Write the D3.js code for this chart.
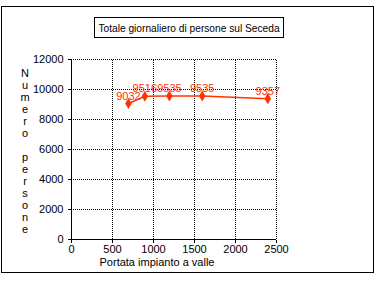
<!DOCTYPE html>
<html lang="en">
<head>
    <meta charset="UTF-8">
    <title>Totale giornaliero di persone sul Seceda</title>
    <script src="https://d3js.org/d3.v7.min.js"></script>
    <style>
        body { margin: 0; background: #fff; }
        svg text { font-family: 'Liberation Sans', Arial, sans-serif; font-size: 11px; fill: #000; }
        .grid line { stroke: #000; stroke-dasharray: 1,1; shape-rendering: crispEdges; }
        .lbl { fill: #ff3300 !important; }
    </style>
</head>
<body>
<svg id="chart" width="378" height="284"></svg>
<script>
    // data
    var portata = [700, 900, 1200, 1600, 2400];
    var persone = [9032, 9516, 9535, 9535, 9357];
    var xTicks = [0, 500, 1000, 1500, 2000, 2500];
    var yTicks = [0, 2000, 4000, 6000, 8000, 10000, 12000];

    var red = "#ff3300";
    var svg = d3.select("#chart");

    // outer frame
    svg.append("rect").attr("x", 1.5).attr("y", 6.5).attr("width", 372).attr("height", 266)
        .attr("fill", "none").attr("stroke", "#000");

    // title box
    svg.append("rect").attr("x", 94.5).attr("y", 17.5).attr("width", 189).attr("height", 20)
        .attr("fill", "none").attr("stroke", "#000");
    svg.append("text").attr("x", 189).attr("y", 31.5).attr("text-anchor", "middle")
        .style("font-size", "10.2px")
        .text("Totale giornaliero di persone sul Seceda");

    var x = d3.scaleLinear().domain([0, 2500]).range([71, 276]);
    var y = d3.scaleLinear().domain([0, 12000]).range([239, 59]);

    // dotted grid
    var grid = svg.append("g").attr("class", "grid");
    grid.selectAll(".gy").data(yTicks.slice(1)).enter().append("line")
        .attr("x1", x(0)).attr("x2", x(2500))
        .attr("y1", function(d) { return Math.round(y(d)) + 0.5; })
        .attr("y2", function(d) { return Math.round(y(d)) + 0.5; });
    grid.selectAll(".gx").data(xTicks.slice(1)).enter().append("line")
        .attr("y1", y(0)).attr("y2", y(12000))
        .attr("x1", function(d) { return Math.round(x(d)) + 0.5; })
        .attr("x2", function(d) { return Math.round(x(d)) + 0.5; });

    // axes
    var xAxis = svg.append("g").attr("transform", "translate(0," + (y(0) + 0.5) + ")")
        .call(d3.axisBottom(x).tickValues(xTicks).tickFormat(d3.format("d")).tickSize(3).tickPadding(3).tickSizeOuter(0));
    var yAxis = svg.append("g").attr("transform", "translate(" + (x(0) + 0.5) + ",0)")
        .call(d3.axisLeft(y).tickValues(yTicks).tickFormat(d3.format("d")).tickSize(4).tickPadding(4).tickSizeOuter(0));
    [xAxis, yAxis].forEach(function(a) {
        a.attr("font-family", null).attr("font-size", null);
        a.selectAll("path, line").attr("stroke", "#000").attr("shape-rendering", "crispEdges");
        a.select(".domain").remove();
    });
    svg.append("line").attr("x1", x(0)).attr("x2", x(2500)).attr("y1", y(0) + 0.5).attr("y2", y(0) + 0.5)
        .attr("stroke", "#000").attr("shape-rendering", "crispEdges");
    svg.append("line").attr("x1", x(0) + 0.5).attr("x2", x(0) + 0.5).attr("y1", y(0) + 3).attr("y2", y(12000))
        .attr("stroke", "#000").attr("shape-rendering", "crispEdges");

    // axis titles
    svg.append("text").attr("x", 157).attr("y", 266).attr("text-anchor", "middle")
        .text("Portata impianto a valle");
    var yTitle = "Numero persone".split("");
    svg.selectAll(".yt").data(yTitle).enter().append("text")
        .attr("x", 25).attr("y", function(d, i) { return 77 + i * 12; })
        .attr("text-anchor", "middle").text(function(d) { return d; });

    // series
    var pts = portata.map(function(d, i) { return [d, persone[i]]; });
    svg.append("path").datum(pts)
        .attr("fill", "none").attr("stroke", red).attr("stroke-width", 1.5)
        .attr("d", d3.line().x(function(d) { return x(d[0]); }).y(function(d) { return y(d[1]); }));
    svg.selectAll(".mk").data(pts).enter().append("path")
        .attr("transform", function(d) { return "translate(" + x(d[0]) + "," + y(d[1]) + ")"; })
        .attr("d", d3.symbol().type(d3.symbolDiamond).size(36))
        .attr("fill", red);
    svg.selectAll(".lbl").data(pts).enter().append("text")
        .attr("class", "lbl")
        .attr("x", function(d) { return x(d[0]); })
        .attr("y", function(d) { return y(d[1]) - 4; })
        .attr("text-anchor", "middle")
        .text(function(d) { return d[1]; });
</script>
</body>
</html>
